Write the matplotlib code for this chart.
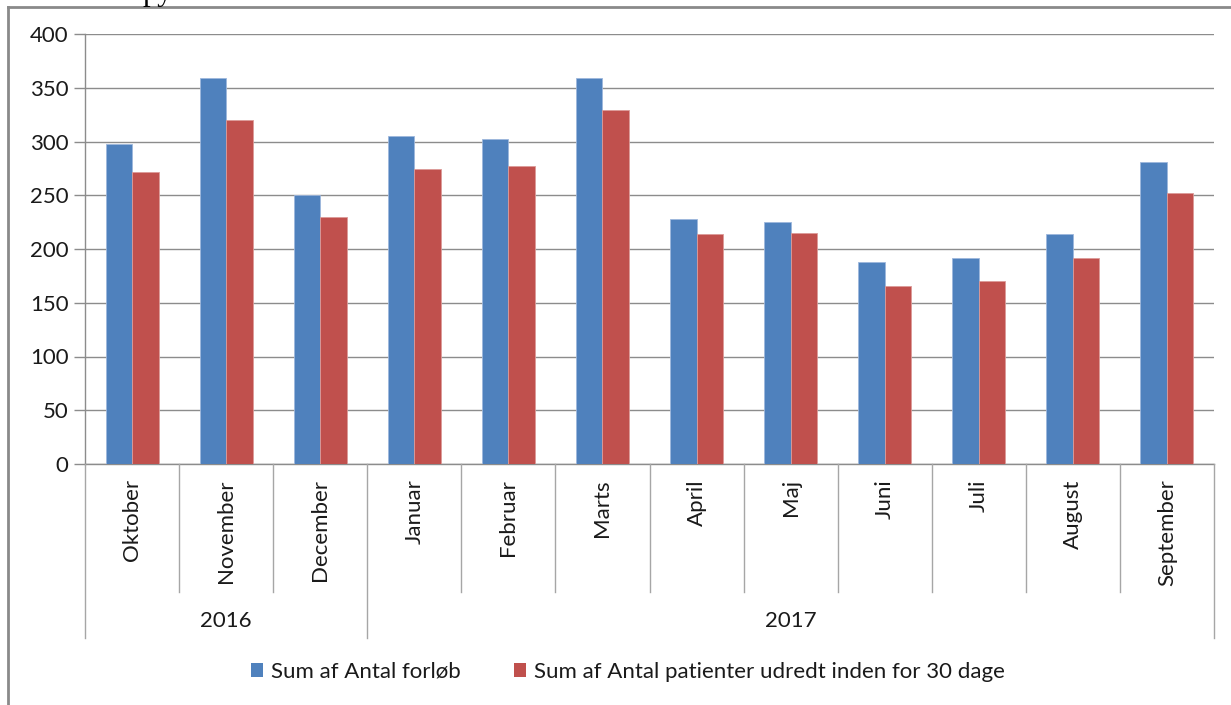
import matplotlib
matplotlib.use("Agg")
import matplotlib.pyplot as plt
import matplotlib.transforms as mtransforms
from matplotlib.lines import Line2D
from matplotlib.patches import Patch
import numpy as np

months = ["Oktober", "November", "December", "Januar", "Februar", "Marts",
          "April", "Maj", "Juni", "Juli", "August", "September"]
years = ["2016", "2017"]
year_counts = [3, 9]
forloeb = [298, 359, 250, 305, 302, 359, 228, 225, 188, 192, 214, 281]
udredt = [272, 320, 230, 274, 277, 329, 214, 215, 166, 170, 192, 252]
series_names = ["Sum af Antal forløb", "Sum af Antal patienter udredt inden for 30 dage"]
yticks = [0, 50, 100, 150, 200, 250, 300, 350, 400]

plt.rcParams['font.family'] = ['Lato', 'DejaVu Sans']
W, H = 1231, 705
fig = plt.figure(figsize=(W / 100, H / 100), dpi=100)

def fx(px):
    return px / W

def fy(py):
    return 1 - py / H

ax = fig.add_axes([fx(85), fy(464), fx(1214) - fx(85), fy(34) - fy(464)])

blue = "#4F81BD"
red = "#C0504D"
grid = "#8c8c8c"
txt = "#1a1a1a"
fs = 16
n = len(months)
x = np.arange(n) + 0.5
w = 0.282
ax.bar(x - w / 2, forloeb, width=w, color=blue, edgecolor="#9db7dc", linewidth=0.6, zorder=3)
ax.bar(x + w / 2, udredt, width=w, color=red, edgecolor="#dc9a98", linewidth=0.6, zorder=3)

ax.set_xlim(0, n)
ax.set_ylim(0, 400)
ax.set_yticks(yticks)
ax.tick_params(axis='y', length=8, width=1, color=grid, labelsize=fs, pad=4, labelcolor=txt)
ax.yaxis.grid(True, color=grid, linewidth=1, zorder=0)
ax.set_axisbelow(True)
for s in ["top", "right"]:
    ax.spines[s].set_visible(False)
ax.spines["left"].set_color(grid)
ax.spines["bottom"].set_color(grid)
ax.spines["left"].set_linewidth(1)
ax.spines["bottom"].set_linewidth(1)

ax.set_xticks(x)
ax.set_xticklabels(months, rotation=90, va='top', ha='center', fontsize=fs, color=txt)
ax.tick_params(axis='x', length=0, pad=11)

# multi-level category axis lines
tr = mtransforms.blended_transform_factory(ax.transData, fig.transFigure)
bounds_year = [0]
for c in year_counts:
    bounds_year.append(bounds_year[-1] + c)
for b in range(n + 1):
    y1 = fy(638) if b in bounds_year else fy(592)
    fig.add_artist(Line2D([b, b], [fy(464), y1], transform=tr, color="#a6a6a6", linewidth=1))
for i, yr in enumerate(years):
    xc = (bounds_year[i] + bounds_year[i + 1]) / 2
    fig.text(xc, fy(621), yr, transform=tr, ha='center', va='center', fontsize=fs, color=txt)

# legend
handles = [Patch(facecolor=blue, edgecolor='none'), Patch(facecolor=red, edgecolor='none')]
fig.legend(handles, series_names, loc='center', bbox_to_anchor=(fx(628), fy(672)), ncol=2,
           frameon=False, fontsize=fs, handlelength=0.55, handleheight=0.55, handletextpad=0.35,
           columnspacing=2.4, labelcolor=txt)

# outer chart border
fig.add_artist(Line2D([fx(8), fx(8)], [fy(7), 0], transform=fig.transFigure, color="#8a8a8a", linewidth=2))
fig.add_artist(Line2D([fx(8), 1], [fy(7), fy(7)], transform=fig.transFigure, color="#8a8a8a", linewidth=2))

# clipped document text above the chart
fig.text(fx(143), 1.0, "py", family=['Liberation Serif', 'DejaVu Serif'], fontsize=22,
         va='baseline', ha='left', color="black")

fig.savefig("out.png", dpi=100)
